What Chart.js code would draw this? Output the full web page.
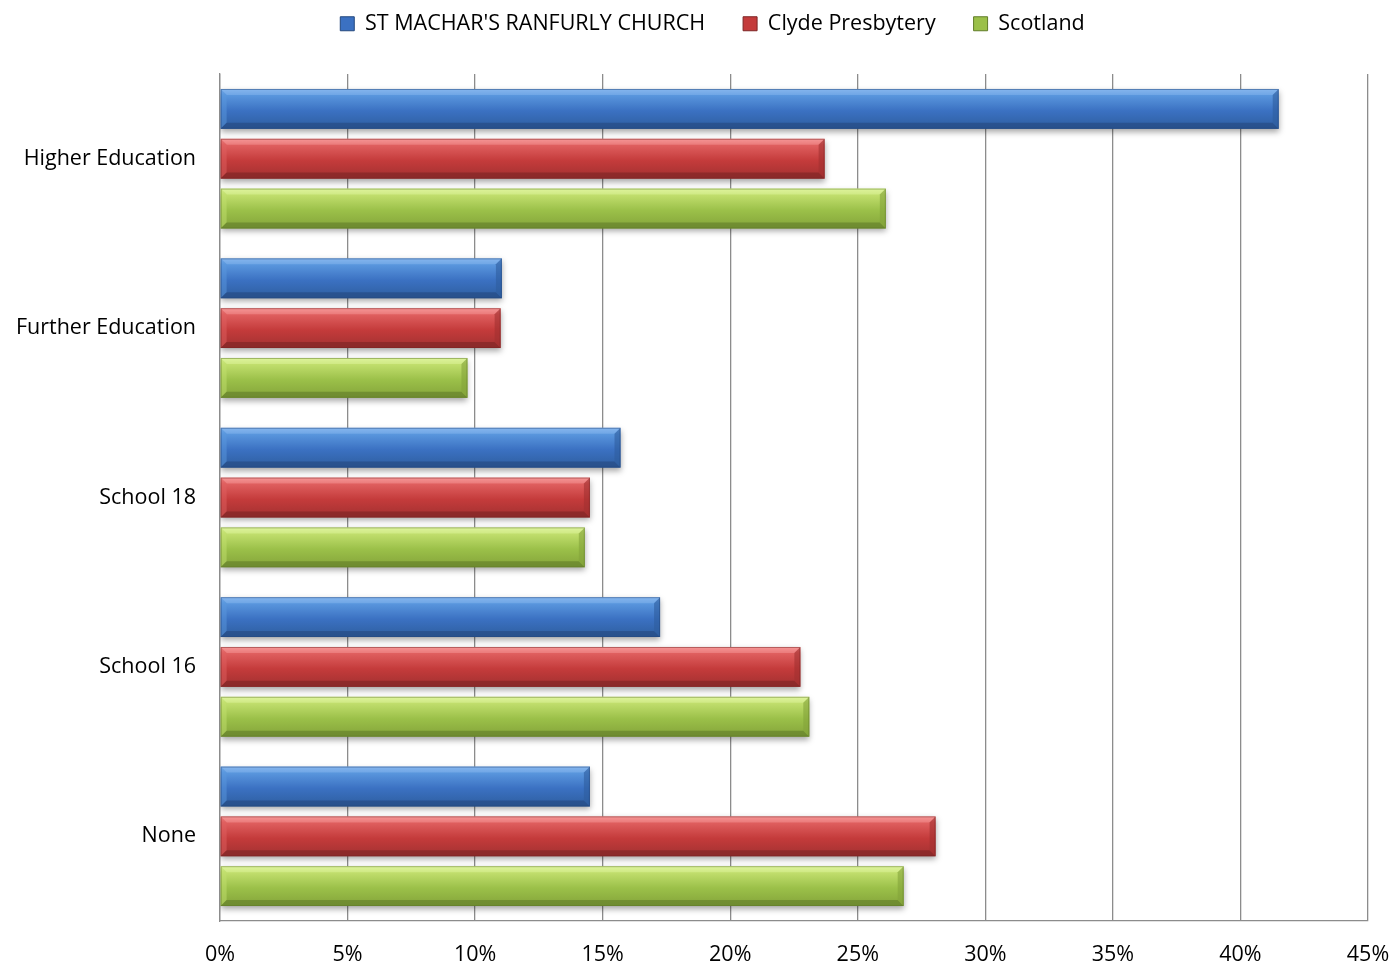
<!DOCTYPE html>
<html>
<head>
<meta charset="utf-8">
<script src="https://cdn.jsdelivr.net/npm/chart.js@4.4.1/dist/chart.umd.min.js"></script>
<style>
  html, body { margin: 0; padding: 0; background: #fff; }
  #wrap { width: 1393px; height: 964px; }
</style>
</head>
<body>
<div id="wrap"><canvas id="eduChart"></canvas></div>
<script>
// Chart values (percent)
const categories = ['Higher Education', 'Further Education', 'School 18', 'School 16', 'None'];
const seriesNames = ["ST MACHAR'S RANFURLY CHURCH", 'Clyde Presbytery', 'Scotland'];
const stMachar = [41.5, 11.05, 15.7, 17.25, 14.5];
const clyde = [23.7, 11.0, 14.5, 22.75, 28.05];
const scotland = [26.1, 9.7, 14.3, 23.1, 26.8];
const tickValues = [0, 5, 10, 15, 20, 25, 30, 35, 40, 45];

// 3D-ish shades per series
const shades = [
    { light: '#86b6ee', top: '#5a97de', mid: '#3b71c2', dark: '#2e5e9f', edge: '#24487e' },
    { light: '#f59696', top: '#e06060', mid: '#c43b3b', dark: '#a23131', edge: '#7c2525' },
    { light: '#ddf39c', top: '#c2df6e', mid: '#9bc049', dark: '#84a43a', edge: '#617c29' }
];

function poly(ctx, pts, fill) {
    ctx.beginPath();
    ctx.moveTo(pts[0][0], pts[0][1]);
    for (let i = 1; i < pts.length; i++) ctx.lineTo(pts[i][0], pts[i][1]);
    ctx.closePath();
    ctx.fillStyle = fill;
    ctx.fill();
}

function drawBevelBar(ctx, x0, x1, y0, y1, c) {
    const w = x1 - x0, h = y1 - y0;
    if (w <= 0) return;
    const b = Math.min(6, w / 2);

    const g = ctx.createLinearGradient(0, y0, 0, y1);
    g.addColorStop(0, c.light);
    g.addColorStop(0.15, c.top);
    g.addColorStop(0.55, c.mid);
    g.addColorStop(1, c.dark);

    ctx.save();
    ctx.shadowColor = 'rgba(0,0,0,0.35)';
    ctx.shadowBlur = 6;
    ctx.shadowOffsetY = 3;
    ctx.fillStyle = g;
    ctx.fillRect(x0, y0, w, h);
    ctx.restore();

    ctx.save();
    ctx.globalAlpha = 0.5;
    // top bevel
    poly(ctx, [[x0, y0], [x1, y0], [x1 - b, y0 + b], [x0 + b, y0 + b]], c.light);
    // left bevel
    poly(ctx, [[x0, y0], [x0 + b, y0 + b], [x0 + b, y1 - b], [x0, y1]], c.top);
    ctx.globalAlpha = 0.6;
    // bottom bevel
    poly(ctx, [[x0, y1], [x0 + b, y1 - b], [x1 - b, y1 - b], [x1, y1]], c.edge);
    // right bevel
    poly(ctx, [[x1, y0], [x1, y1], [x1 - b, y1 - b], [x1 - b, y0 + b]], c.dark);
    ctx.restore();

    ctx.save();
    ctx.strokeStyle = c.edge;
    ctx.globalAlpha = 0.5;
    ctx.lineWidth = 1;
    ctx.strokeRect(x0 + 0.5, y0 + 0.5, w - 1, h - 1);
    ctx.restore();
}

// Draw bars with a bevel look, using the element geometry from Chart.js
const bevelBars = {
    id: 'bevelBars',
    beforeDatasetDraw(chart, args) {
        const ctx = chart.ctx;
        const meta = args.meta;
        const c = shades[args.index];
        const area = chart.chartArea;
        ctx.save();
        ctx.beginPath();
        ctx.rect(area.left, area.top - 10, area.right - area.left + 10, area.bottom - area.top + 10);
        ctx.clip();
        meta.data.forEach(bar => {
            const p = bar.getProps(['x', 'y', 'base', 'height'], true);
            drawBevelBar(ctx, Math.min(p.base, p.x), Math.max(p.base, p.x), p.y - p.height / 2, p.y + p.height / 2, c);
        });
        ctx.restore();
        return false;
    }
};

// Extra room under the legend, and nudge it a little to the right
const legendGap = {
    id: 'legendGap',
    beforeLayout(chart) {
        const lg = chart.legend;
        if (lg && !lg._gapPatched) {
            const fit = lg.fit;
            lg.fit = function() {
                fit.call(this);
                this.height = 71;
            };
            lg._gapPatched = true;
        }
    },
    afterLayout(chart) {
        const lg = chart.legend;
        if (lg) {
            lg.left += 16;
            lg.right += 16;
        }
    }
};

const ctx = document.getElementById('eduChart').getContext('2d');
Chart.defaults.font.family = '"Open Sans", Lato, sans-serif';
Chart.defaults.color = '#000';

new Chart(ctx, {
    type: 'bar',
    data: {
        labels: categories,
        datasets: [
            { label: seriesNames[0], data: stMachar, backgroundColor: shades[0].mid },
            { label: seriesNames[1], data: clyde, backgroundColor: shades[1].mid },
            { label: seriesNames[2], data: scotland, backgroundColor: shades[2].mid }
        ]
    },
    options: {
        indexAxis: 'y',
        responsive: true,
        maintainAspectRatio: false,
        animation: false,
        categoryPercentage: 0.882,
        barPercentage: 0.8,
        layout: { padding: { top: 3, right: 0, left: 0, bottom: 0 } },
        scales: {
            x: {
                min: 0,
                max: 45,
                afterBuildTicks: scale => {
                    scale.ticks = tickValues.map(v => ({ value: v }));
                },
                afterFit: scale => {
                    scale.height = 43;
                    scale.paddingRight = 25;
                    scale.paddingLeft = 0;
                },
                grid: { color: '#8c8c8c', lineWidth: 1.3, drawTicks: false },
                border: { color: '#8c8c8c', width: 1.3 },
                ticks: {
                    padding: 21,
                    font: { size: 21.5 },
                    callback: v => v + '%'
                }
            },
            y: {
                afterFit: scale => { scale.width = 220; },
                grid: { display: false, drawTicks: false },
                border: { color: '#8c8c8c', width: 1.3 },
                ticks: {
                    padding: 24,
                    font: { size: 21.5 }
                }
            }
        },
        plugins: {
            legend: {
                position: 'top',
                labels: {
                    boxWidth: 14,
                    boxHeight: 14,
                    padding: 10,
                    font: { size: 21.5 },
                    color: '#000',
                    generateLabels: chart => chart.data.datasets.map((ds, i) => ({
                        text: i < chart.data.datasets.length - 1 ? ds.label + '\u00a0\u00a0\u00a0\u00a0\u00a0' : ds.label,
                        fillStyle: shades[i].mid,
                        strokeStyle: shades[i].edge,
                        lineWidth: 1,
                        datasetIndex: i,
                        hidden: false
                    }))
                }
            },
            tooltip: { enabled: false }
        }
    },
    plugins: [bevelBars, legendGap]
});
</script>
</body>
</html>
